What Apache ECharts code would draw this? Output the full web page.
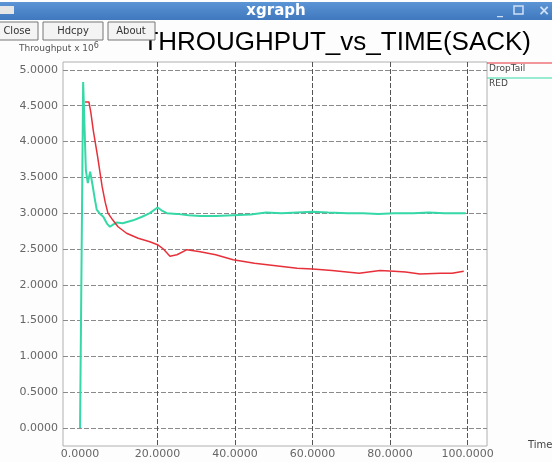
<!DOCTYPE html>
<html><head><meta charset="utf-8">
<script src="https://cdn.jsdelivr.net/npm/echarts@6/dist/echarts.min.js"></script>
<style>html,body{margin:0;padding:0;background:#fdfdfd}#c{width:552px;height:462px}</style>
</head><body><div id="c"></div>
<script>
const xTicks = [0, 20, 40, 60, 80, 100];
const yTicks = [0, 0.5, 1, 1.5, 2, 2.5, 3, 3.5, 4, 4.5, 5];
const redTime = [0, 0.8, 1.5, 2.0, 2.6, 3.2, 3.8, 4.3, 5.0, 6.0, 7.0, 7.7, 8.5, 9.5, 11, 13.7, 16, 18, 20, 21, 22.4, 25, 28, 31, 35, 39.5, 44, 48, 52, 56, 60, 64, 69, 73, 77, 81, 86, 90, 94, 98, 99.5];
const redValues = [0, 4.83, 3.6, 3.42, 3.58, 3.4, 3.2, 3.05, 3.0, 2.95, 2.85, 2.81, 2.84, 2.87, 2.86, 2.9, 2.95, 3.0, 3.08, 3.04, 3.0, 2.99, 2.97, 2.96, 2.96, 2.97, 2.98, 3.01, 3.0, 3.01, 3.02, 3.01, 3.0, 3.0, 2.99, 3.0, 3.0, 3.01, 3.0, 3.0, 3.0];
const dropTailTime = [1.3, 2.3, 2.8, 3.4, 4.5, 5.7, 6.5, 7.2, 8.5, 9.8, 12, 15, 18, 20, 21.5, 23.2, 25, 27.6, 31, 35, 39.5, 45, 51.6, 56, 60, 65, 72, 77.4, 81, 84, 87.7, 93, 96, 99];
const dropTailValues = [4.55, 4.55, 4.4, 4.16, 3.8, 3.37, 3.15, 3.0, 2.9, 2.81, 2.72, 2.65, 2.6, 2.56, 2.5, 2.40, 2.42, 2.49, 2.46, 2.42, 2.35, 2.3, 2.26, 2.23, 2.22, 2.2, 2.16, 2.2, 2.19, 2.18, 2.15, 2.16, 2.16, 2.19];

const zip = (a, b) => a.map((x, i) => [x, b[i]]);
const chart = echarts.init(document.getElementById('c'));
const lblFont = {color: '#666', fontFamily: 'DejaVu Sans', fontSize: 11};
chart.setOption({
  animation: false,
  backgroundColor: '#fdfdfd',
  grid: {left: 63, top: 62, width: 424, height: 384, show: true, borderColor: '#b0b0b0', borderWidth: 1, backgroundColor: '#ffffff'},
  xAxis: {
    type: 'value', min: -4.4, max: 105,
    axisLine: {show: false},
    axisTick: {show: false, customValues: xTicks},
    axisLabel: Object.assign({customValues: xTicks, margin: 3, formatter: v => v.toFixed(4)}, lblFont),
    splitLine: {show: true, lineStyle: {color: ['rgba(0,0,0,0)', '#555', '#555', '#555', '#555', '#555'], type: [5, 2], width: 1}}
  },
  yAxis: {
    type: 'value', min: -0.25, max: 5.11,
    axisLine: {show: false},
    axisTick: {show: false, customValues: yTicks},
    axisLabel: Object.assign({customValues: yTicks, margin: 5, formatter: v => v.toFixed(4)}, lblFont),
    splitLine: {show: true, lineStyle: {color: '#8a8a8a', type: [5, 2], width: 1}}
  },
  series: [
    {name: 'RED', type: 'line', data: zip(redTime, redValues), symbol: 'none', z: 3,
     lineStyle: {color: '#35d8a6', width: 2}},
    {name: 'DropTail', type: 'line', data: zip(dropTailTime, dropTailValues), symbol: 'none', z: 4,
     lineStyle: {color: '#e8303a', width: 1.5}}
  ],
  graphic: [
    {type: 'rect', shape: {x: 0, y: 2, width: 552, height: 18}, style: {fill: new echarts.graphic.LinearGradient(0, 0, 0, 1, [{offset: 0, color: '#5b95d6'}, {offset: 1, color: '#3f78bd'}])}},
    {type: 'rect', shape: {x: 0, y: 6, width: 14, height: 8}, style: {fill: '#e6e6e6'}},
    {type: 'text', x: 276, y: 11, style: {text: 'xgraph', fill: '#ffffff', font: 'bold 15px "DejaVu Sans"', align: 'center', verticalAlign: 'middle'}},
    {type: 'text', x: 500, y: 11, style: {text: '_', fill: '#cfe0f5', font: 'bold 12px "DejaVu Sans"', align: 'center', verticalAlign: 'middle'}},
    {type: 'rect', shape: {x: 514, y: 6, width: 9, height: 8}, style: {fill: 'none', stroke: '#cfe0f5', lineWidth: 1.5}},
    {type: 'text', x: 544, y: 11, style: {text: '×', fill: '#cfe0f5', font: 'bold 14px "DejaVu Sans"', align: 'center', verticalAlign: 'middle'}},
    {type: 'text', x: 531, y: 43, style: {text: 'THROUGHPUT_vs_TIME(SACK)', fill: '#000', font: '26px "Liberation Sans"', align: 'right', verticalAlign: 'middle'}},
    {type: 'rect', zlevel: 1, shape: {x: -4, y: 22, width: 42, height: 18}, style: {fill: '#f4f4f4', stroke: '#777', lineWidth: 1}},
    {type: 'text', zlevel: 1, x: 17, y: 31, style: {text: 'Close', fill: '#333', font: '10px "DejaVu Sans"', align: 'center', verticalAlign: 'middle'}},
    {type: 'rect', zlevel: 1, shape: {x: 43, y: 22, width: 60, height: 18}, style: {fill: '#f4f4f4', stroke: '#777', lineWidth: 1}},
    {type: 'text', zlevel: 1, x: 73, y: 31, style: {text: 'Hdcpy', fill: '#333', font: '10px "DejaVu Sans"', align: 'center', verticalAlign: 'middle'}},
    {type: 'rect', zlevel: 1, shape: {x: 108, y: 22, width: 47, height: 18}, style: {fill: '#f4f4f4', stroke: '#777', lineWidth: 1}},
    {type: 'text', zlevel: 1, x: 131, y: 31, style: {text: 'About', fill: '#333', font: '10px "DejaVu Sans"', align: 'center', verticalAlign: 'middle'}},
    {type: 'text', x: 19, y: 49, style: {text: '{a|Throughput x 10}{s|6}', rich: {a: {fill: '#555', font: '9px "DejaVu Sans"'}, s: {fill: '#555', font: '8px "DejaVu Sans"', verticalAlign: 'top', padding: [0, 0, 6, 0]}}, verticalAlign: 'middle'}},
    {type: 'line', shape: {x1: 487, y1: 63, x2: 552, y2: 63}, style: {stroke: '#e8303a', lineWidth: 1}},
    {type: 'text', x: 489, y: 69, style: {text: 'DropTail', fill: '#444', font: '9px "DejaVu Sans"', verticalAlign: 'middle'}},
    {type: 'line', shape: {x1: 487, y1: 78, x2: 552, y2: 78}, style: {stroke: '#35d8a6', lineWidth: 1}},
    {type: 'text', x: 489, y: 84, style: {text: 'RED', fill: '#444', font: '9px "DejaVu Sans"', verticalAlign: 'middle'}},
    {type: 'text', x: 528, y: 445, style: {text: 'Time', fill: '#444', font: '10px "DejaVu Sans"', verticalAlign: 'middle'}}
  ]
});
</script></body></html>
